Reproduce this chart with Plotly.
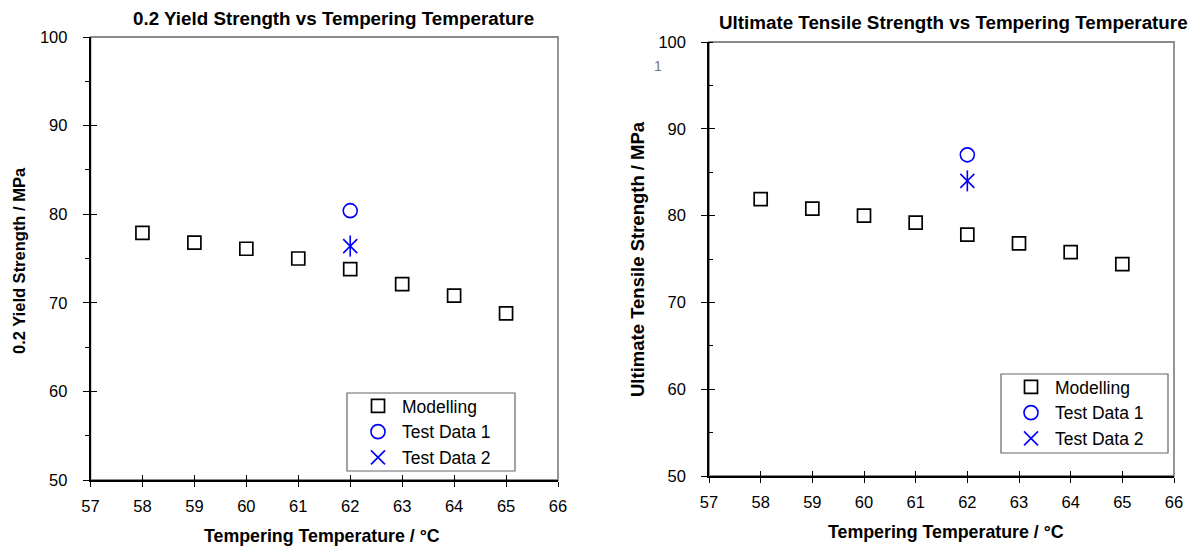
import plotly.graph_objects as go

# ---- data ----
temps = [58, 59, 60, 61, 62, 63, 64, 65]
ys_model = [77.9, 76.8, 76.1, 75.0, 73.8, 72.1, 70.8, 68.8]
ys_test1_x = [62]
ys_test1 = [80.4]
ys_test2_x = [62]
ys_test2 = [76.4]

uts_model = [81.9, 80.8, 80.0, 79.2, 77.8, 76.8, 75.8, 74.4]
uts_test1_x = [62]
uts_test1 = [87.0]
uts_test2_x = [62]
uts_test2 = [84.0]

x_ticks = [57, 58, 59, 60, 61, 62, 63, 64, 65, 66]
y_ticks = [50, 60, 70, 80, 90, 100]

W, H = 1198, 548
FONT = "Liberation Sans, Arial, sans-serif"
BLUE = "#0000ff"

def px_x(v):
    return v / W

def px_y(v):
    return 1 - v / H

fig = go.Figure()

def add_series(xa, ya, model, t1x, t1, t2x, t2, legend):
    fig.add_trace(go.Scatter(x=temps, y=model, mode="markers", name="Modelling",
                             xaxis=xa, yaxis=ya, legend=legend,
                             marker=dict(symbol="square-open", size=13, color="black",
                                         line=dict(width=1.7, color="#111111"))))
    fig.add_trace(go.Scatter(x=t1x, y=t1, mode="markers", name="Test Data 1",
                             xaxis=xa, yaxis=ya, legend=legend,
                             marker=dict(symbol="circle-open", size=14, color=BLUE,
                                         line=dict(width=1.6, color=BLUE))))
    fig.add_trace(go.Scatter(x=t2x, y=t2, mode="markers", name="Test Data 2",
                             xaxis=xa, yaxis=ya, legend=legend, legendgroup=legend + "t2",
                             marker=dict(symbol="x-thin-open", size=14, color=BLUE,
                                         line=dict(width=1.6, color=BLUE))))
    fig.add_trace(go.Scatter(x=t2x, y=t2, mode="markers", name="Test Data 2",
                             xaxis=xa, yaxis=ya, legend=legend, legendgroup=legend + "t2",
                             showlegend=False,
                             marker=dict(symbol="line-ns-open", size=15, color=BLUE,
                                         line=dict(width=1.6, color=BLUE))))

add_series("x", "y", ys_model, ys_test1_x, ys_test1, ys_test2_x, ys_test2, "legend")
add_series("x2", "y2", uts_model, uts_test1_x, uts_test1, uts_test2_x, uts_test2, "legend2")

# dummy traces for overlay tick axes
fig.add_trace(go.Scatter(x=[None], y=[None], xaxis="x3", yaxis="y3", showlegend=False, hoverinfo="skip"))
fig.add_trace(go.Scatter(x=[None], y=[None], xaxis="x4", yaxis="y4", showlegend=False, hoverinfo="skip"))

dom1x = [px_x(90.5), px_x(558)]
dom1y = [px_y(480), px_y(37)]
dom2x = [px_x(709), px_x(1174)]
dom2y = [px_y(476), px_y(42)]

tickfont = dict(family=FONT, size=16.5, color="black")

def xax(domain, anchor, **kw):
    d = dict(domain=domain, anchor=anchor, range=[57, 66], tickvals=x_ticks,
             showgrid=False, zeroline=False, showline=True, linecolor="black",
             linewidth=1.5, ticks="outside", ticklen=5, tickwidth=1.3, tickcolor="black",
             tickfont=tickfont, ticklabelstandoff=5, automargin=False)
    d.update(kw)
    return d

def yax(domain, anchor, minor_ticks, **kw):
    d = dict(domain=domain, anchor=anchor, range=[50, 100], tickvals=y_ticks,
             showgrid=False, zeroline=False, showline=True, linecolor="black",
             linewidth=1.5, ticks="outside", ticklen=6, tickwidth=1.3, tickcolor="black",
             tickfont=tickfont, ticklabelstandoff=12, automargin=False,
             minor=dict(ticks=minor_ticks, ticklen=4, dtick=5, tickwidth=1.2,
                        tickcolor="black", showgrid=False))
    d.update(kw)
    return d

legfont = dict(family=FONT, size=17.5, color="black")

fig.update_layout(
    width=W, height=H,
    margin=dict(l=0, r=0, t=0, b=0),
    paper_bgcolor="white", plot_bgcolor="white",
    font=dict(family=FONT, color="black"),
    xaxis=xax(dom1x, "y"),
    yaxis=yax(dom1y, "x", "outside"),
    xaxis2=xax(dom2x, "y2"),
    yaxis2=yax(dom2y, "x2", "inside"),
    xaxis3=xax(dom1x, "y3", overlaying="x", ticks="inside", showticklabels=False, showline=False),
    yaxis3=yax(dom1y, "x3", "", overlaying="y", ticks="inside", showticklabels=False,
               showline=False, minor=dict(ticks="")),
    xaxis4=xax(dom2x, "y4", overlaying="x2", ticks="inside", showticklabels=False, showline=False),
    yaxis4=yax(dom2y, "x4", "", overlaying="y2", ticks="inside", showticklabels=False,
               showline=False, minor=dict(ticks="")),
    legend=dict(x=px_x(354), y=px_y(432), xanchor="left", yanchor="middle",
                borderwidth=0, bgcolor="rgba(0,0,0,0)",
                font=legfont, itemwidth=38, tracegroupgap=0),
    legend2=dict(x=px_x(1007), y=px_y(413), xanchor="left", yanchor="middle",
                 borderwidth=0, bgcolor="rgba(0,0,0,0)",
                 font=legfont, itemwidth=38, tracegroupgap=0),
    showlegend=True,
)

# gray frame (top/right)
for xr, yr in (("x", "y"), ("x2", "y2")):
    fig.add_shape(type="rect", xref=xr + " domain", yref=yr + " domain",
                  x0=0, x1=1, y0=0, y1=1, line=dict(color="#8a8a8a", width=1.8),
                  layer="below")

# legend boxes
for (x0, y0, x1, y1) in ((347, 393, 515, 471), (1001, 374, 1168, 453)):
    fig.add_shape(type="rect", xref="paper", yref="paper",
                  x0=px_x(x0), x1=px_x(x1), y0=px_y(y1), y1=px_y(y0),
                  line=dict(color="#666666", width=1.2), fillcolor="white", layer="above")

ann = [
    dict(text="<b>0.2 Yield Strength vs Tempering Temperature</b>", x=px_x(333), y=px_y(18), size=18.8),
    dict(text="<b>Ultimate Tensile Strength vs Tempering Temperature</b>", x=px_x(953), y=px_y(22), size=18.8),
    dict(text="<b>Tempering Temperature / °C</b>", x=px_x(322), y=px_y(536), size=17.8),
    dict(text="<b>Tempering Temperature / °C</b>", x=px_x(946), y=px_y(532), size=17.8),
]
for a in ann:
    fig.add_annotation(text=a["text"], x=a["x"], y=a["y"], xref="paper", yref="paper",
                       xanchor="center", yanchor="middle", showarrow=False,
                       font=dict(family=FONT, size=a["size"], color="black"))

fig.add_annotation(text="<b>0.2 Yield Strength / MPa</b>", x=px_x(19), y=px_y(261),
                   xref="paper", yref="paper", textangle=-90, showarrow=False,
                   xanchor="center", yanchor="middle",
                   font=dict(family=FONT, size=16.5, color="black"))
fig.add_annotation(text="<b>Ultimate Tensile Strength / MPa</b>", x=px_x(637), y=px_y(259),
                   xref="paper", yref="paper", textangle=-90, showarrow=False,
                   xanchor="center", yanchor="middle",
                   font=dict(family=FONT, size=18.5, color="black"))
fig.add_annotation(text="1", x=px_x(658), y=px_y(66), xref="paper", yref="paper",
                   showarrow=False, xanchor="center", yanchor="middle",
                   font=dict(family=FONT, size=14, color="#777777"))

fig.write_html("out.html", post_script="document.body.style.margin='0px';",
               config={"displayModeBar": False})
